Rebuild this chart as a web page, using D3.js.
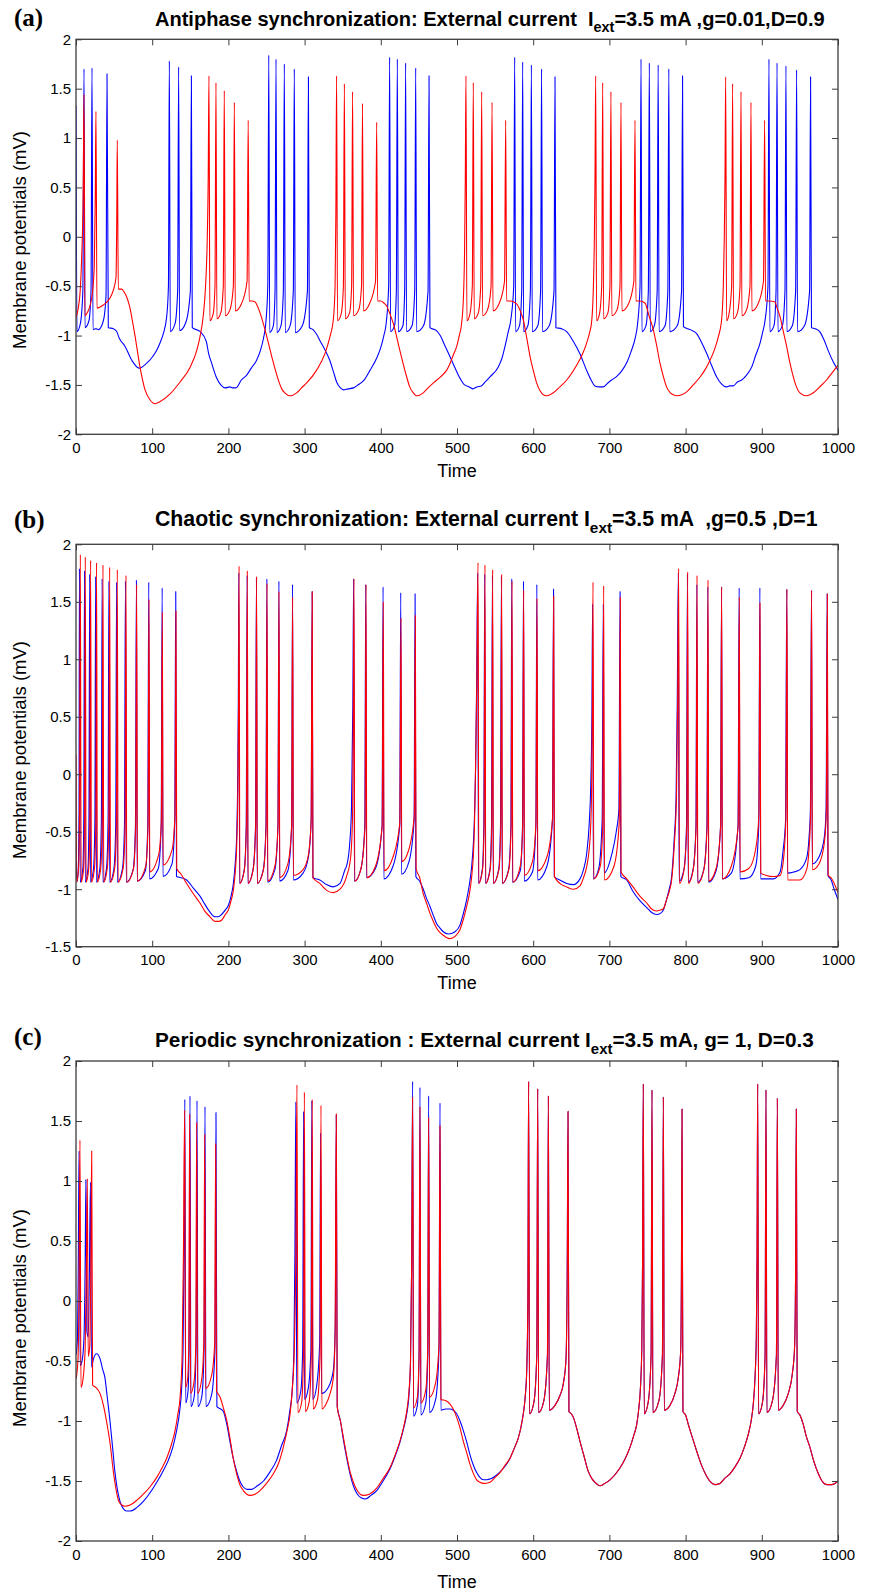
<!DOCTYPE html>
<html>
<head>
<meta charset="utf-8">
<script src="https://cdn.jsdelivr.net/npm/d3@7"></script>
<style>
  body { margin: 0; background: #fff; }
  svg { display: block; }
</style>
</head>
<body>
<script>
// Membrane potential traces, three coupled-neuron panels as [time, mV]

const xTicks = [0, 100, 200, 300, 400, 500, 600, 700, 800, 900, 1000];
const yTicksA = [-2, -1.5, -1, -0.5, 0, 0.5, 1, 1.5, 2];
const yTicksB = [-1.5, -1, -0.5, 0, 0.5, 1, 1.5, 2];
const yTicksC = [-2, -1.5, -1, -0.5, 0, 0.5, 1, 1.5, 2];

// (a) antiphase
const aBlue = [[0,1.33],[1.3,-0.96],[5.7,-0.88],[9,-0.55],[10.5,1.70],[11.8,-0.92],[17,-0.85],[19.7,-0.55],[21,1.71],[22.3,-0.94],[26.2,-0.93],[29.3,-0.94],[35.9,-0.85],[39.4,-0.6],[40.7,1.65],[42.4,-0.92],[49,-0.93],[53.4,-0.96],[57,-1.03],[64.4,-1.11],[73.2,-1.25],[82.8,-1.33],[92.8,-1.28],[100,-1.22],[105.9,-1.15],[110.5,-1.07],[114.6,-0.98],[119,-0.81],[121.3,-0.5],[122.5,1.78],[123.7,-0.96],[130,-0.88],[133.4,-0.55],[134.7,1.72],[135.9,-0.95],[144,-0.87],[150.1,-0.55],[151.4,1.63],[152.6,-0.92],[163,-0.96],[171,-1.06],[174,-1.18],[178,-1.28],[184,-1.42],[190,-1.50],[196,-1.53],[202,-1.52],[206,-1.53],[210,-1.53],[217,-1.45],[224,-1.40],[230,-1.33],[237,-1.25],[242,-1.15],[246,-1.03],[249,-0.88],[251.7,-0.5],[253,1.84],[254.2,-0.97],[259,-0.9],[261.2,-0.55],[262.5,1.80],[263.7,-0.97],[269,-0.9],[272.1,-0.55],[273.4,1.75],[274.6,-0.97],[281,-0.9],[285.2,-0.55],[286.5,1.70],[287.7,-0.97],[297,-0.9],[303.7,-0.55],[305,1.62],[306.2,-0.92],[311,-0.94],[316,-0.99],[320,-1.05],[327,-1.15],[333,-1.25],[338,-1.37],[342,-1.47],[347,-1.53],[351,-1.55],[357,-1.54],[364,-1.53],[370,-1.50],[377,-1.46],[386,-1.35],[394.5,-1.23],[400,-1.12],[404,-1.0],[407,-0.88],[410.3,-0.5],[411.6,1.82],[412.8,-0.96],[418,-0.9],[420.4,-0.55],[421.7,1.80],[422.9,-0.96],[429,-0.9],[431.3,-0.55],[432.6,1.76],[433.8,-0.96],[441,-0.9],[444.5,-0.55],[445.8,1.71],[447,-0.96],[456,-0.9],[462,-0.55],[463.3,1.63],[464.5,-0.92],[473,-0.95],[478,-1.0],[484,-1.1],[490,-1.2],[497,-1.32],[503,-1.42],[510,-1.5],[516,-1.52],[521,-1.54],[526,-1.52],[532,-1.51],[537,-1.47],[543,-1.42],[554,-1.32],[559,-1.23],[563,-1.11],[567,-0.97],[571,-0.82],[574.4,-0.5],[575.7,1.82],[576.9,-0.96],[582,-0.9],[584.9,-0.55],[586.2,1.77],[587.4,-0.96],[593,-0.9],[596.3,-0.55],[597.6,1.74],[598.8,-0.96],[606,-0.9],[609.7,-0.55],[611,1.70],[612.2,-0.96],[621,-0.9],[627.3,-0.55],[628.6,1.62],[629.8,-0.92],[637,-0.93],[644,-0.96],[652,-1.05],[661,-1.18],[670,-1.35],[676,-1.45],[681,-1.51],[686,-1.52],[692,-1.52],[698,-1.48],[703,-1.45],[710,-1.41],[716,-1.36],[723,-1.27],[729,-1.15],[734,-1.02],[737,-0.88],[740.2,-0.5],[741.5,1.80],[742.7,-0.96],[748,-0.9],[751.1,-0.55],[752.4,1.76],[753.6,-0.96],[759,-0.9],[762.7,-0.55],[764,1.74],[765.2,-0.96],[773,-0.9],[776.7,-0.55],[778,1.70],[779.2,-0.96],[789,-0.9],[794.7,-0.55],[796,1.63],[797.2,-0.91],[806,-0.94],[814.5,-0.98],[821,-1.07],[827.6,-1.18],[834,-1.30],[840.8,-1.42],[847,-1.49],[853,-1.52],[858,-1.51],[862.6,-1.51],[868,-1.47],[873.6,-1.45],[880,-1.40],[886.7,-1.32],[892,-1.20],[897.6,-1.08],[901,-0.97],[904,-0.86],[908.1,-0.5],[909.4,1.80],[910.6,-0.96],[916,-0.9],[918.7,-0.55],[920,1.76],[921.2,-0.96],[927,-0.9],[930.4,-0.55],[931.7,1.73],[932.9,-0.96],[940,-0.9],[944.4,-0.55],[945.7,1.69],[946.9,-0.96],[956,-0.9],[962.7,-0.55],[964,1.62],[965.2,-0.92],[970,-0.93],[976,-0.96],[982,-1.05],[987,-1.15],[994,-1.27],[1000,-1.35]];

const aRed = [[0,-0.82],[3,-0.72],[5.5,-0.55],[7.5,-0.2],[9.5,0.5],[10.5,1.44],[11.7,-0.80],[14,-0.78],[20.6,-0.62],[24,-0.3],[25.3,0.4],[26.2,1.27],[27.5,-0.72],[35.9,-0.69],[44.6,-0.62],[49,-0.54],[52.5,-0.41],[53.5,0.2],[54.2,0.98],[55.5,-0.53],[59.8,-0.53],[64,-0.57],[67.5,-0.63],[70.8,-0.72],[74,-0.85],[77.4,-1.0],[84,-1.32],[90.6,-1.55],[97,-1.65],[103.7,-1.69],[110,-1.67],[123.5,-1.59],[136.6,-1.47],[149.8,-1.32],[158.5,-1.15],[163,-1.0],[167,-0.8],[170,-0.5],[172,-0.1],[173.5,0.6],[174.5,1.63],[175.7,-0.85],[180,-0.78],[182.4,-0.5],[183.7,1.56],[184.9,-0.83],[190,-0.77],[193.3,-0.5],[194.6,1.48],[195.8,-0.80],[202,-0.74],[206.5,-0.5],[207.8,1.36],[209,-0.75],[217,-0.68],[224.5,-0.45],[226,1.18],[227.2,-0.65],[231,-0.65],[235,-0.66],[241.5,-0.77],[248,-0.94],[256.8,-1.21],[265.5,-1.45],[270,-1.54],[274,-1.58],[281,-1.61],[289.6,-1.58],[296,-1.53],[302.7,-1.48],[315.8,-1.35],[326.8,-1.18],[333.3,-1.01],[337.7,-0.84],[340,-0.5],[341,0.2],[342,1.63],[343.2,-0.85],[348,-0.78],[350.9,-0.5],[352.2,1.55],[353.4,-0.83],[359,-0.77],[361.7,-0.5],[363,1.47],[364.2,-0.80],[371,-0.74],[374.7,-0.5],[376,1.35],[377.2,-0.75],[385,-0.68],[393.1,-0.45],[394.6,1.16],[395.8,-0.65],[400,-0.65],[404,-0.67],[407.7,-0.70],[412,-0.78],[416.5,-0.88],[425,-1.15],[434,-1.42],[438,-1.52],[442.7,-1.58],[447,-1.61],[455.8,-1.58],[462,-1.53],[469,-1.48],[478,-1.42],[486.5,-1.35],[491,-1.28],[495,-1.2],[499.6,-1.11],[503,-1.0],[506,-0.88],[508.5,-0.6],[510,-0.1],[510.9,0.6],[511.8,1.63],[513,-0.85],[517,-0.78],[520.1,-0.5],[521.4,1.56],[522.6,-0.83],[528,-0.77],[531.1,-0.5],[532.4,1.47],[533.6,-0.80],[540,-0.74],[544.7,-0.5],[546,1.36],[547.2,-0.75],[555,-0.68],[562.4,-0.45],[563.9,1.18],[565.1,-0.65],[570,-0.65],[578.3,-0.68],[583,-0.75],[587,-0.84],[591,-1.0],[595.8,-1.21],[600,-1.35],[604.5,-1.48],[609,-1.56],[613.3,-1.60],[617.7,-1.61],[626.4,-1.58],[635,-1.52],[644,-1.45],[657,-1.30],[664,-1.2],[670,-1.08],[674,-0.97],[676.7,-0.86],[679,-0.5],[680.3,0.0],[681.1,0.6],[682,1.63],[683.2,-0.85],[687,-0.78],[689.9,-0.5],[691.2,1.56],[692.4,-0.83],[698,-0.77],[700.7,-0.5],[702,1.47],[703.2,-0.80],[710,-0.74],[713.9,-0.5],[715.2,1.36],[716.4,-0.75],[725,-0.68],[732.1,-0.45],[733.6,1.18],[734.8,-0.65],[740,-0.65],[746.7,-0.67],[752,-0.8],[757.6,-0.94],[762,-1.1],[766.4,-1.28],[771,-1.42],[775,-1.52],[780,-1.58],[784,-1.60],[788.3,-1.61],[795,-1.60],[801.4,-1.57],[810,-1.50],[819,-1.42],[826,-1.34],[832,-1.25],[838,-1.14],[843,-1.01],[847,-0.86],[849.5,-0.5],[850.8,0.0],[851.7,0.6],[852.6,1.62],[853.8,-0.85],[857,-0.78],[860.4,-0.5],[861.7,1.55],[862.9,-0.83],[868,-0.77],[871.4,-0.5],[872.7,1.47],[873.9,-0.80],[880,-0.74],[884.5,-0.5],[885.8,1.36],[887,-0.75],[895,-0.68],[902.2,-0.45],[903.7,1.18],[904.9,-0.65],[910,-0.65],[917.3,-0.66],[920,-0.72],[924,-0.81],[928,-0.95],[932.6,-1.11],[937,-1.28],[941.4,-1.42],[945,-1.51],[950,-1.58],[958.8,-1.61],[967.6,-1.58],[976,-1.52],[985,-1.45],[992,-1.38],[1000,-1.30]];

// (b) chaotic
const bBlue = [[0,-0.75],[1.5,-0.93],[3,-0.82],[4,-0.3],[4.5,1.79],[5.5,-0.94],[9,-0.82],[10.2,-0.4],[11.2,1.77],[12.2,-0.94],[15.7,-0.82],[17,-0.4],[18,1.74],[19,-0.94],[23,-0.82],[24.8,-0.4],[25.8,1.72],[26.8,-0.94],[31.3,-0.82],[33.3,-0.4],[34.3,1.70],[35.3,-0.94],[40,-0.82],[42.1,-0.4],[43.2,1.68],[44.2,-0.94],[49.8,-0.82],[52.1,-0.45],[53.3,1.67],[54.3,-0.94],[61,-0.82],[63.6,-0.45],[64.9,1.68],[65.9,-0.94],[75,-0.83],[78,-0.45],[79.3,1.69],[80.3,-0.93],[91,-0.84],[94.2,-0.45],[95.5,1.67],[96.5,-0.91],[108,-0.82],[111.8,-0.45],[113.1,1.62],[114.1,-0.89],[126,-0.78],[129.6,-0.4],[130.9,1.59],[131.9,-0.89],[138,-0.9],[145.2,-0.92],[154,-0.99],[162.7,-1.06],[169,-1.13],[175.9,-1.20],[182.4,-1.24],[187,-1.24],[191,-1.22],[196,-1.18],[200,-1.14],[203.5,-1.06],[206.5,-0.95],[209,-0.77],[211,-0.5],[212.3,0.0],[213,0.6],[213.7,1.75],[214.7,-0.95],[220.8,-0.83],[223.4,-0.45],[224.6,1.73],[225.6,-0.95],[232.3,-0.83],[235.6,-0.45],[236.8,1.71],[237.8,-0.95],[245.8,-0.83],[249.3,-0.45],[250.5,1.70],[251.5,-0.94],[261,-0.83],[265,-0.45],[266.3,1.68],[267.3,-0.93],[278,-0.84],[283,-0.45],[284.2,1.65],[285.2,-0.92],[298,-0.86],[305,-0.72],[308.6,-0.4],[309.9,1.59],[310.9,-0.90],[320,-0.92],[329,-0.96],[337.7,-0.98],[346.5,-0.95],[353,-0.83],[355,-0.80],[359,-0.62],[361.5,-0.3],[363.3,0.6],[364.4,1.70],[365.4,-0.93],[374,-0.82],[379,-0.45],[380.3,1.65],[381.3,-0.90],[393,-0.82],[401.7,-0.45],[403,1.63],[404,-0.91],[416,-0.8],[424.8,-0.45],[426.2,1.58],[427.2,-0.87],[437,-0.76],[443.7,-0.4],[445,1.57],[446,-0.89],[451,-0.93],[455.8,-1.0],[460,-1.08],[464.6,-1.15],[469,-1.23],[473.3,-1.30],[478,-1.34],[482,-1.37],[488.6,-1.39],[497.4,-1.37],[504,-1.31],[508,-1.22],[512.7,-1.09],[516,-0.97],[519.3,-0.8],[521.5,-0.6],[522.8,-0.40],[524.5,0.1],[525.8,0.8],[527.2,1.75],[528.2,-0.95],[533.2,-0.83],[535.2,-0.45],[536.4,1.74],[537.4,-0.95],[543.2,-0.83],[545.3,-0.45],[546.5,1.73],[547.5,-0.95],[554.7,-0.83],[557.1,-0.45],[558.3,1.72],[559.3,-0.95],[567.7,-0.83],[570.7,-0.45],[571.9,1.70],[572.9,-0.94],[583,-0.84],[586,-0.45],[587.3,1.68],[588.3,-0.93],[599,-0.85],[603.5,-0.45],[604.8,1.65],[605.8,-0.92],[618,-0.8],[625.3,-0.4],[626.7,1.61],[627.7,-0.89],[635,-0.92],[644,-0.95],[652.7,-0.96],[661.4,-0.91],[666,-0.83],[670,-0.70],[673.5,-0.43],[675.5,-0.1],[677,0.5],[678,1.48],[679,-0.91],[686,-0.82],[690.5,-0.4],[692,1.48],[693,-0.86],[703,-0.7],[709,-0.5],[712.5,-0.3],[714,1.59],[715,-0.89],[722.7,-0.92],[731,-1.02],[740,-1.10],[749,-1.16],[755,-1.2],[762,-1.22],[767,-1.21],[770.8,-1.18],[775,-1.09],[778.5,-1.0],[781.7,-0.89],[785,-0.57],[787.5,-0.2],[789,0.6],[790.5,1.75],[791.5,-0.93],[797.8,-0.83],[801.2,-0.45],[802.4,1.74],[803.4,-0.94],[809.8,-0.83],[813.6,-0.45],[814.8,1.65],[815.8,-0.94],[823.8,-0.83],[828,-0.45],[829.2,1.63],[830.2,-0.94],[840,-0.84],[845.9,-0.45],[847.2,1.63],[848.2,-0.91],[860,-0.86],[868.8,-0.45],[870.3,1.62],[871.3,-0.91],[883,-0.9],[892,-0.8],[896,-0.45],[897.5,1.62],[898.5,-0.91],[906,-0.91],[915,-0.91],[924,-0.85],[928,-0.66],[931.2,-0.4],[932.8,1.61],[933.8,-0.86],[942,-0.85],[950,-0.83],[958.8,-0.73],[962,-0.55],[963.8,-0.3],[965.2,1.60],[966.2,-0.78],[975,-0.72],[982,-0.55],[984.4,-0.3],[985.8,1.57],[986.8,-0.88],[991,-0.92],[995,-1.0],[1000,-1.09]];

const bRed = [[0,0.17],[1,-0.94],[3.5,-0.8],[4.7,-0.3],[5.7,1.91],[6.7,-0.94],[10,-0.82],[11.2,-0.4],[12.2,1.89],[13.2,-0.94],[16.7,-0.82],[18.2,-0.4],[19.2,1.86],[20.2,-0.94],[24.2,-0.82],[26,-0.4],[27,1.84],[28,-0.94],[32.4,-0.82],[34.4,-0.4],[35.4,1.82],[36.4,-0.94],[41,-0.82],[43.1,-0.4],[44.2,1.80],[45.2,-0.94],[50.7,-0.82],[53,-0.45],[54.2,1.78],[55.2,-0.94],[61.8,-0.82],[64.4,-0.45],[65.6,1.73],[66.6,-0.94],[75.5,-0.82],[78.3,-0.45],[79.6,1.65],[80.6,-0.93],[91.5,-0.8],[94.5,-0.45],[95.8,1.52],[96.8,-0.85],[108.5,-0.7],[112,-0.4],[113.3,1.41],[114.3,-0.79],[126,-0.66],[129.9,-0.35],[131.2,1.42],[132.2,-0.82],[138,-0.87],[145.2,-0.95],[154,-1.04],[162.7,-1.12],[169,-1.19],[175.9,-1.24],[182.4,-1.28],[187,-1.28],[191,-1.27],[196,-1.22],[200,-1.18],[203.5,-1.1],[206.5,-1.01],[209,-0.85],[211,-0.6],[212.5,-0.1],[213.3,0.6],[214,1.81],[215,-0.95],[221,-0.83],[223.6,-0.45],[224.8,1.77],[225.8,-0.95],[232.5,-0.83],[235.8,-0.45],[237,1.72],[238,-0.95],[246,-0.83],[249.5,-0.45],[250.7,1.66],[251.7,-0.93],[261,-0.8],[265.1,-0.45],[266.4,1.59],[267.4,-0.90],[278,-0.78],[283,-0.45],[284.3,1.54],[285.3,-0.88],[298,-0.83],[305,-0.7],[308.6,-0.4],[310,1.59],[311,-0.90],[320,-0.95],[329,-1.01],[337.7,-1.03],[346.5,-1.0],[355,-0.89],[360.5,-0.72],[363,-0.34],[364,0.6],[364.8,1.70],[365.8,-0.93],[374,-0.82],[379.3,-0.45],[380.6,1.65],[381.6,-0.90],[393,-0.8],[401.8,-0.45],[403.3,1.50],[404.3,-0.84],[416,-0.72],[425,-0.42],[426.5,1.36],[427.5,-0.76],[437,-0.65],[444,-0.35],[445.3,1.38],[446.3,-0.82],[451,-0.9],[455.8,-1.04],[460,-1.12],[464.6,-1.21],[469,-1.28],[473.3,-1.34],[478,-1.38],[482,-1.40],[486,-1.42],[490.8,-1.43],[497.4,-1.41],[504,-1.35],[508,-1.27],[512.7,-1.15],[516,-1.05],[519.3,-0.89],[521.5,-0.7],[522.8,-0.48],[524.5,0.1],[526,0.8],[527.6,1.84],[528.6,-0.95],[533.5,-0.83],[535.5,-0.45],[536.7,1.82],[537.7,-0.95],[543.5,-0.83],[545.6,-0.45],[546.8,1.78],[547.8,-0.95],[555,-0.83],[557.4,-0.45],[558.6,1.74],[559.6,-0.95],[568,-0.83],[571,-0.45],[572.2,1.68],[573.2,-0.94],[583,-0.8],[586.2,-0.45],[587.5,1.60],[588.5,-0.88],[599,-0.76],[603.6,-0.42],[605,1.53],[606,-0.84],[618,-0.72],[625.4,-0.38],[626.9,1.55],[627.9,-0.89],[635,-0.95],[644,-0.98],[652.7,-1.0],[661.4,-0.97],[666,-0.9],[670,-0.81],[674.5,-0.57],[676.5,-0.2],[677.6,0.5],[678.5,1.67],[679.5,-0.91],[688,-0.8],[691.2,-0.45],[692.5,1.64],[693.5,-0.92],[706,-0.8],[712.9,-0.42],[714.3,1.54],[715.3,-0.85],[722.7,-0.91],[731,-0.98],[740,-1.06],[749,-1.12],[755,-1.17],[762,-1.19],[767,-1.18],[770.8,-1.17],[775,-1.09],[778.5,-1.02],[781.7,-0.92],[785,-0.63],[788,-0.2],[789.5,0.6],[790.9,1.79],[791.9,-0.95],[798,-0.83],[801.5,-0.45],[802.7,1.76],[803.7,-0.95],[810,-0.83],[813.8,-0.45],[815,1.73],[816,-0.95],[824,-0.83],[828.2,-0.45],[829.4,1.69],[830.4,-0.93],[840,-0.82],[846,-0.45],[847.3,1.63],[848.3,-0.91],[860,-0.8],[869,-0.45],[870.5,1.54],[871.5,-0.85],[883,-0.82],[892,-0.65],[896.2,-0.35],[897.6,1.49],[898.6,-0.86],[906,-0.88],[915,-0.89],[924,-0.88],[928,-0.77],[931.5,-0.4],[933,1.61],[934,-0.92],[942,-0.92],[950,-0.92],[958.8,-0.83],[962,-0.65],[964,-0.35],[965.4,1.60],[966.4,-0.83],[975,-0.78],[982,-0.6],[984.6,-0.35],[986,1.57],[987,-0.88],[991,-0.9],[995,-0.95],[1000,-1.03]];

// (c) periodic
const cRed = [[0,-0.65],[2.5,-0.5],[3.8,0.0],[4.5,0.6],[5.2,1.34],[6.5,-0.72],[9,-0.66],[12,-0.4],[13.7,0.3],[14.9,1.02],[16,-0.46],[18,-0.38],[19.5,0.3],[20.6,1.25],[21.8,-0.70],[26,-0.72],[31.5,-0.77],[36,-0.87],[40,-1.0],[45,-1.2],[49,-1.42],[52,-1.55],[55.6,-1.66],[60,-1.70],[64.3,-1.71],[71,-1.70],[80,-1.66],[88.4,-1.61],[97,-1.55],[106,-1.47],[113,-1.39],[119,-1.31],[125,-1.2],[130,-1.08],[133.5,-0.95],[136.5,-0.81],[139.3,-0.45],[141,0.4],[142.6,1.59],[143.8,-0.72],[146.5,-0.65],[148,-0.35],[149.2,1.56],[150.4,-0.77],[155,-0.67],[157.2,-0.35],[158.4,1.49],[159.6,-0.77],[165,-0.65],[167.7,-0.35],[168.9,1.39],[170.1,-0.73],[178,-0.62],[182,-0.35],[183.3,1.31],[184.5,-0.75],[189,-0.8],[193.4,-0.89],[198,-1.0],[202,-1.14],[206,-1.3],[210.8,-1.44],[215,-1.53],[219.6,-1.58],[228.3,-1.62],[235,-1.61],[241.5,-1.58],[250,-1.52],[259,-1.44],[266,-1.35],[272,-1.22],[277,-1.08],[281,-0.94],[284,-0.72],[286.5,-0.4],[288.5,0.4],[290,1.80],[291.2,-0.93],[296,-0.85],[298.5,-0.45],[299.7,1.74],[300.9,-0.92],[306,-0.84],[308.8,-0.45],[310,1.68],[311.2,-0.90],[317,-0.82],[320.3,-0.45],[321.5,1.63],[322.7,-0.90],[328,-0.86],[333,-0.78],[337.7,-0.64],[340,-0.3],[341.6,1.56],[342.8,-0.88],[347,-1.0],[351,-1.14],[355,-1.28],[359.6,-1.42],[364,-1.51],[368.3,-1.57],[377,-1.62],[385,-1.61],[394.6,-1.56],[403,-1.48],[412,-1.39],[419,-1.28],[425,-1.17],[430,-1.05],[434,-0.92],[437,-0.75],[439,-0.5],[440.5,0.3],[441.8,1.70],[443,-0.89],[448,-0.8],[450.2,-0.45],[451.4,1.62],[452.6,-0.85],[459,-0.74],[461.6,-0.4],[462.8,1.53],[464,-0.80],[472,-0.68],[476.4,-0.35],[477.7,1.46],[478.9,-0.82],[485,-0.83],[490.8,-0.86],[495,-0.9],[499.6,-0.97],[504,-1.06],[508.3,-1.17],[513,-1.27],[517,-1.36],[521,-1.43],[525.8,-1.49],[530,-1.51],[534.6,-1.52],[543.3,-1.51],[550,-1.47],[556.4,-1.43],[563,-1.37],[569.6,-1.31],[575,-1.23],[580.5,-1.14],[584,-1.05],[587,-0.94],[589.5,-0.8],[591.5,-0.58],[593,0.0],[594,1.83],[595.2,-0.94],[601,-0.84],[604.7,-0.45],[605.9,1.77],[607.1,-0.93],[614,-0.83],[618.7,-0.45],[619.9,1.71],[621.1,-0.91],[628.6,-0.87],[635,-0.79],[639.5,-0.69],[643,-0.49],[644.6,0.2],[645.7,1.58],[646.9,-0.92],[650,-0.94],[652.7,-0.97],[657,-1.06],[661.4,-1.17],[667,-1.3],[672.3,-1.42],[677,-1.48],[681,-1.51],[687.7,-1.54],[694,-1.52],[700.8,-1.49],[707,-1.45],[714,-1.39],[721,-1.31],[727,-1.22],[732,-1.12],[735.8,-1.03],[738.5,-0.9],[740.5,-0.75],[742.5,-0.4],[743.5,0.3],[744.5,1.81],[745.7,-0.94],[751,-0.84],[754.7,-0.45],[755.9,1.76],[757.1,-0.93],[765,-0.83],[769.6,-0.45],[770.8,1.70],[772,-0.91],[779.5,-0.87],[786,-0.77],[790.4,-0.64],[793.5,-0.42],[794.5,0.2],[795.3,1.60],[796.5,-0.92],[800,-0.95],[803.6,-1.03],[809,-1.14],[814.5,-1.25],[821,-1.37],[827.6,-1.46],[833,-1.51],[838.6,-1.53],[845,-1.52],[851,-1.48],[858.2,-1.44],[865,-1.38],[871.4,-1.31],[877,-1.22],[882.3,-1.11],[886,-1.0],[888.8,-0.86],[891,-0.65],[892.8,-0.3],[893.8,0.4],[894.6,1.81],[895.8,-0.94],[901,-0.84],[904.3,-0.45],[905.5,1.76],[906.7,-0.93],[914,-0.83],[919.2,-0.45],[920.4,1.69],[921.6,-0.91],[928,-0.87],[934.8,-0.77],[940,-0.61],[943,-0.39],[944.3,0.2],[945.3,1.60],[946.5,-0.92],[950,-0.95],[954.5,-1.03],[958,-1.12],[963.2,-1.22],[968,-1.33],[974.2,-1.44],[979,-1.50],[985.1,-1.53],[991.6,-1.53],[996,-1.52],[1000,-1.50]];

// blue in (c) until it locks onto red (~570); after that the two traces coincide
const cBlueHead = [[0,-0.45],[2,-0.3],[3,0.3],[4,1.25],[5.5,-0.54],[8,-0.5],[10.5,-0.3],[12,0.3],[13,1.01],[14.2,-0.25],[16,-0.3],[17.5,0.2],[19,0.99],[20.3,-0.55],[23,-0.48],[27,-0.44],[31.5,-0.48],[35,-0.57],[38,-0.64],[41,-0.8],[44.6,-1.0],[48,-1.22],[51,-1.42],[54,-1.56],[57.7,-1.67],[62,-1.73],[66.5,-1.75],[71,-1.75],[80,-1.72],[88.4,-1.67],[97,-1.60],[106,-1.51],[114,-1.42],[121,-1.33],[127,-1.22],[132,-1.08],[136,-0.92],[138.7,-0.72],[140.5,-0.4],[141.8,0.4],[142.8,1.68],[144,-0.85],[147,-0.75],[148.4,-0.4],[149.6,1.71],[150.8,-0.88],[155,-0.8],[157.6,-0.4],[158.8,1.67],[160,-0.88],[165,-0.8],[168.1,-0.4],[169.3,1.62],[170.5,-0.88],[178,-0.78],[182.4,-0.4],[183.7,1.57],[184.9,-0.88],[190,-0.9],[193.4,-0.92],[198,-1.03],[202,-1.17],[206,-1.3],[210.8,-1.42],[215,-1.5],[219.6,-1.55],[225,-1.57],[230.5,-1.57],[238,-1.54],[246,-1.50],[255,-1.42],[263,-1.33],[270,-1.2],[276.5,-1.08],[280.5,-0.92],[284,-0.72],[286,-0.4],[287.3,0.4],[288.5,1.66],[289.7,-0.85],[295,-0.75],[297.5,-0.4],[298.7,1.58],[299.9,-0.82],[305,-0.72],[308.3,-0.4],[309.5,1.67],[310.7,-0.82],[316,-0.7],[319.8,-0.35],[321,1.40],[322.2,-0.77],[331,-0.72],[337.7,-0.58],[340.2,-0.2],[341.6,1.55],[342.8,-0.88],[347,-1.0],[351,-1.16],[355,-1.3],[359.6,-1.44],[364,-1.54],[368.3,-1.6],[374,-1.64],[380,-1.65],[387,-1.62],[394.6,-1.58],[403,-1.50],[412,-1.40],[419,-1.29],[425,-1.18],[430,-1.06],[434,-0.94],[437,-0.78],[439,-0.5],[440.5,0.3],[441.8,1.83],[443,-0.96],[448,-0.87],[450.2,-0.45],[451.4,1.78],[452.6,-0.95],[459,-0.85],[461.6,-0.45],[462.8,1.71],[464,-0.93],[472,-0.82],[476.4,-0.4],[477.7,1.65],[478.9,-0.91],[485,-0.90],[490.8,-0.90],[495,-0.91],[499.6,-0.94],[504,-1.0],[508.3,-1.08],[513,-1.18],[517,-1.28],[521,-1.36],[525.8,-1.43],[530,-1.47],[535,-1.49],[539,-1.49],[545,-1.48],[552,-1.45],[560,-1.40],[565,-1.36]];
const cBlue = cBlueHead.concat(cRed.filter(d => d[0] >= 569.6));

const titles = [
  ["Antiphase synchronization: External current  I", "ext", "=3.5 mA ,g=0.01,D=0.9"],
  ["Chaotic synchronization: External current I", "ext", "=3.5 mA  ,g=0.5 ,D=1"],
  ["Periodic synchronization : External current I", "ext", "=3.5 mA, g= 1, D=0.3"]
];

// layout for each panel (pixel geometry of the figure)
const panels = [
  { letter: "(a)", blue: aBlue, red: aRed, yDomain: [-2, 2], yTicks: yTicksA, title: titles[0],
    top: 39.3, bottom: 434.3, letterY: 26, titleX: 155, titleY: 26, titleW: 670, ylabelY: 240, timeY: 477 },
  { letter: "(b)", blue: bBlue, red: bRed, yDomain: [-1.5, 2], yTicks: yTicksB, title: titles[1],
    top: 544.3, bottom: 946.7, letterY: 528, titleX: 155, titleY: 526, titleW: 663, ylabelY: 750, timeY: 989 },
  { letter: "(c)", blue: cBlue, red: cRed, yDomain: [-2, 2], yTicks: yTicksC, title: titles[2],
    top: 1061, bottom: 1541, letterY: 1045, titleX: 155, titleY: 1047, titleW: 659, ylabelY: 1318, timeY: 1588 }
];

const W = 870, H = 1593;
const left = 76, right = 838;
const sansFont = "'Liberation Sans', Arial, Helvetica, sans-serif";
const titleFont = "'Liberation Sans Narrow', 'Arial Narrow', 'Liberation Sans', Arial, sans-serif";
const axisColor = "#3c3c3c";

const svg = d3.select("body").append("svg")
  .attr("width", W)
  .attr("height", H);

svg.append("rect").attr("width", W).attr("height", H).attr("fill", "#fff");

const x = d3.scaleLinear().domain([0, 1000]).range([left, right]);

function styleAxis(sel) {
  sel.attr("font-family", null).attr("font-size", null);
  sel.select(".domain").remove();
  sel.selectAll(".tick line").attr("stroke", axisColor).attr("stroke-width", 1);
  sel.selectAll(".tick text")
    .attr("font-family", sansFont)
    .attr("font-size", 15)
    .attr("fill", "#000");
}

panels.forEach((p, i) => {
  const y = d3.scaleLinear().domain(p.yDomain).range([p.bottom, p.top]);
  const g = svg.append("g");

  svg.append("clipPath").attr("id", "clip" + i)
    .append("rect")
    .attr("x", left).attr("y", p.top)
    .attr("width", right - left).attr("height", p.bottom - p.top);

  const line = d3.line()
    .x(d => x(d[0]))
    .y(d => y(d[1]))
    .curve(d3.curveMonotoneX);

  const traces = g.append("g").attr("clip-path", `url(#clip${i})`);
  traces.append("path")
    .attr("d", line(p.blue))
    .attr("fill", "none")
    .attr("stroke", "#0000ff")
    .attr("stroke-width", 1.1)
    .attr("stroke-linejoin", "round");
  traces.append("path")
    .attr("d", line(p.red))
    .attr("fill", "none")
    .attr("stroke", "#ff0000")
    .attr("stroke-width", 1.1)
    .attr("stroke-linejoin", "round");

  // ticks point inward on all four sides, like a boxed MATLAB axes
  g.append("g").attr("transform", `translate(0,${p.bottom})`)
    .call(d3.axisBottom(x).tickValues(xTicks).tickSize(-6).tickSizeOuter(0).tickPadding(8).tickFormat(d => String(d)))
    .call(styleAxis);
  g.append("g").attr("transform", `translate(0,${p.top})`)
    .call(d3.axisTop(x).tickValues(xTicks).tickSize(-6).tickSizeOuter(0).tickFormat(""))
    .call(styleAxis);
  g.append("g").attr("transform", `translate(${left},0)`)
    .call(d3.axisLeft(y).tickValues(p.yTicks).tickSize(-6).tickSizeOuter(0).tickPadding(5).tickFormat(d => String(d)))
    .call(styleAxis);
  g.append("g").attr("transform", `translate(${right},0)`)
    .call(d3.axisRight(y).tickValues(p.yTicks).tickSize(-6).tickSizeOuter(0).tickFormat(""))
    .call(styleAxis);

  g.append("rect")
    .attr("x", left).attr("y", p.top)
    .attr("width", right - left).attr("height", p.bottom - p.top)
    .attr("fill", "none")
    .attr("stroke", axisColor)
    .attr("stroke-width", 1.3);

  // axis labels
  g.append("text")
    .attr("transform", `translate(26,${p.ylabelY}) rotate(-90)`)
    .attr("text-anchor", "middle")
    .attr("font-family", sansFont)
    .attr("font-size", 18.5)
    .text("Membrane potentials (mV)");

  g.append("text")
    .attr("x", (left + right) / 2)
    .attr("y", p.timeY)
    .attr("text-anchor", "middle")
    .attr("font-family", sansFont)
    .attr("font-size", 18)
    .text("Time");

  // panel letter
  g.append("text")
    .attr("x", 14)
    .attr("y", p.letterY)
    .attr("font-family", "'Liberation Serif', 'Times New Roman', serif")
    .attr("font-weight", "bold")
    .attr("font-size", 25)
    .text(p.letter);

  // title with subscript "ext"
  const t = g.append("text")
    .attr("x", p.titleX)
    .attr("y", p.titleY)
    .attr("font-family", titleFont)
    .attr("font-weight", "bold")
    .attr("font-size", 20)
    .style("white-space", "pre");
  t.append("tspan").text(p.title[0]);
  t.append("tspan").attr("font-size", "0.72em").attr("dy", "0.45em").text(p.title[1]);
  t.append("tspan").attr("dy", "-0.324em").text(p.title[2]);

  const w = t.node().getComputedTextLength();
  if (w > 0) t.attr("font-size", 20 * p.titleW / w);
});
</script>
</body>
</html>
